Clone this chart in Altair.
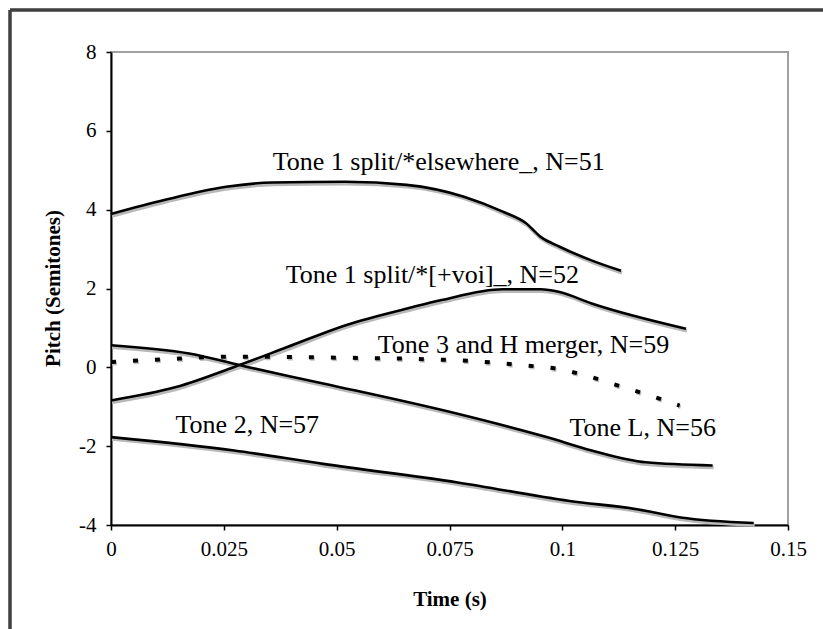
import altair as alt
import pandas as pd

# ---- data ----
t1e_time = [0, 0.012, 0.0255, 0.0357, 0.0519, 0.0655, 0.0782, 0.0868, 0.0919, 0.0952, 0.0994, 0.1063, 0.113]
t1e_pitch = [3.89, 4.25, 4.58, 4.69, 4.71, 4.63, 4.33, 3.95, 3.66, 3.31, 3.06, 2.72, 2.45]

t1v_time = [0, 0.0144, 0.0273, 0.0392, 0.052, 0.0669, 0.073, 0.0868, 0.0952, 0.0994, 0.1065, 0.1274]
t1v_pitch = [-0.84, -0.5, 0.01, 0.52, 1.07, 1.53, 1.70, 1.98, 1.98, 1.91, 1.62, 0.98]

t3h_time = [0, 0.011, 0.027, 0.047, 0.0765, 0.0916, 0.0985, 0.1065, 0.1134, 0.1204, 0.126]
t3h_pitch = [0.135, 0.2, 0.27, 0.25, 0.18, 0.05, -0.03, -0.25, -0.5, -0.75, -0.97]

tl_time = [0, 0.0173, 0.0302, 0.047, 0.0768, 0.0965, 0.1065, 0.1185, 0.1333]
tl_pitch = [0.56, 0.35, 0.01, -0.41, -1.18, -1.77, -2.11, -2.41, -2.49]

t2_time = [0, 0.0273, 0.047, 0.0768, 0.1016, 0.1165, 0.1262, 0.1424]
t2_pitch = [-1.77, -2.11, -2.45, -2.92, -3.39, -3.6, -3.81, -3.95]

label_text = ["Tone 1 split/*elsewhere_, N=51", "Tone 1 split/*[+voi]_, N=52",
              "Tone 3 and H merger, N=59", "Tone 2, N=57", "Tone L, N=56"]
label_time = [0.0726, 0.0712, 0.0914, 0.0302, 0.1178]
label_pitch = [5.21, 2.34, 0.56, -1.47, -1.53]

x_ticks = [0, 0.025, 0.05, 0.075, 0.1, 0.125, 0.15]
y_ticks = [-4, -2, 0, 2, 4, 6, 8]

# ---- tables ----
def series(name, ts, ps):
    return pd.DataFrame({"series": name, "time": ts, "pitch": ps})

solid = pd.concat([
    series("t1e", t1e_time, t1e_pitch),
    series("t1v", t1v_time, t1v_pitch),
    series("tl", tl_time, tl_pitch),
    series("t2", t2_time, t2_pitch),
])
dotted = series("t3h", t3h_time, t3h_pitch)
labels = pd.DataFrame({"text": label_text, "time": label_time, "pitch": label_pitch})

FONT = "Liberation Serif"

xs = alt.Scale(domain=[0, 0.15], nice=False)
ys = alt.Scale(domain=[-4, 8], nice=False)

x_enc = alt.X("time:Q", scale=xs, axis=alt.Axis(
    values=x_ticks, format=".3~f", title="Time (s)", grid=False,
    domainColor="black", domainWidth=2, tickColor="black", tickWidth=1.5, tickSize=5,
    labelFont=FONT, labelFontSize=21, labelColor="black", labelPadding=19,
    labelBaseline="middle", labelFlush=False,
    titleFont=FONT, titleFontSize=21, titleFontWeight="bold", titleColor="black",
    titleY=74, titleBaseline="middle"))
y_enc = alt.Y("pitch:Q", scale=ys, axis=alt.Axis(
    values=y_ticks, title="Pitch (Semitones)", grid=False,
    labelExpr="datum.value < 0 ? '-' + abs(datum.value) : '' + datum.value",
    domainColor="black", domainWidth=2, tickColor="black", tickWidth=1.5, tickSize=5,
    labelFont=FONT, labelFontSize=21, labelColor="black", labelPadding=10,
    labelFlush=False,
    titleFont=FONT, titleFontSize=21, titleFontWeight="bold", titleColor="black",
    titleX=-58, titleY=236, titleAngle=-90, titleBaseline="middle"))

shadow = alt.Chart(solid).mark_line(
    color="#b8b8b8", strokeWidth=3.5, interpolate="monotone", xOffset=1, yOffset=2
).encode(x=x_enc, y=y_enc, detail="series:N")

lines = alt.Chart(solid).mark_line(
    color="black", strokeWidth=2.6, interpolate="monotone"
).encode(x=x_enc, y=y_enc, detail="series:N")

dots_shadow = alt.Chart(dotted).mark_line(
    color="#c0c0c0", strokeWidth=4, strokeDash=[5, 17], interpolate="monotone",
    xOffset=1, yOffset=1.5
).encode(x=x_enc, y=y_enc)

dots = alt.Chart(dotted).mark_line(
    color="black", strokeWidth=4, strokeDash=[5, 17], strokeCap="butt", interpolate="monotone"
).encode(x=x_enc, y=y_enc)

text = alt.Chart(labels).mark_text(
    font=FONT, fontSize=26, color="black", align="center", baseline="middle"
).encode(x=x_enc, y=y_enc, text="text:N")

frame_left = alt.Chart(labels).mark_rule(color="#404040", strokeWidth=2.5).encode(
    x=alt.value(-101), y=alt.value(-42), y2=alt.value(640))
frame_top = alt.Chart(labels).mark_rule(color="#404040", strokeWidth=2.5).encode(
    x=alt.value(-101), x2=alt.value(800), y=alt.value(-42))

chart = alt.layer(
    frame_left, frame_top, shadow, dots_shadow, lines, dots, text
).properties(
    width=677, height=473,
    autosize=alt.AutoSizeParams(type="none"),
    padding={"left": 111, "top": 52, "right": 35, "bottom": 104},
    background="white",
).configure_view(
    stroke="#a0a0a0", strokeWidth=2
)

chart.save("out.html", embed_options={"renderer": "svg", "actions": False})
